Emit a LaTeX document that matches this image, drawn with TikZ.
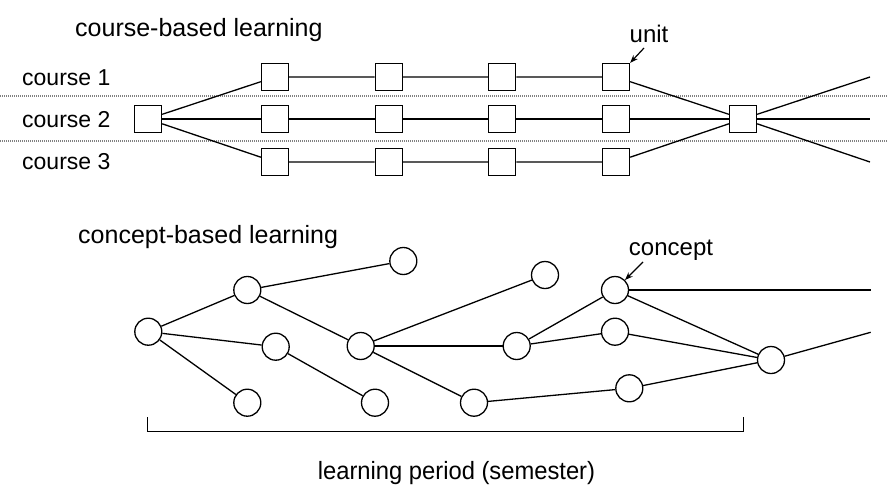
\documentclass[tikz,border=0pt]{standalone}
\usepackage{fontspec}
\setmainfont{Liberation Sans}
\usetikzlibrary{arrows.meta}
\begin{document}
\begin{tikzpicture}[x=1pt,y=-1pt,
  unitbox/.style={draw,line width=1.3pt,fill=white,minimum size=27pt,inner sep=0pt},
  conc/.style={draw,circle,line width=1.3pt,fill=white,minimum size=27pt,inner sep=0pt},
  link/.style={line width=1.3pt},
  sep/.style={gray,line width=1.2pt,dash pattern=on 1pt off 1pt},
  lbl/.style={inner sep=0pt,font=\fontsize{23}{27}\selectfont},
  ttl/.style={inner sep=0pt,font=\fontsize{25}{30}\selectfont},
  callout/.style={line width=1.2pt,-{Stealth[length=8pt,width=6pt]}}]
\useasboundingbox (0,0) rectangle (888,485);
% separators
\coordinate (s1l) at (0,96); \coordinate (s1r) at (888,96);
\coordinate (s2l) at (0,141); \coordinate (s2r) at (888,141);
\draw[sep] (s1l) -- (s1r);
\draw[sep] (s2l) -- (s2r);
% titles and labels
\node[ttl,anchor=base west] (t1) at (75,36) {course-based learning};
\node[lbl,anchor=base west] (c1) at (22,85) {course 1};
\node[lbl,anchor=base west] (c2) at (22,127) {course 2};
\node[lbl,anchor=base west] (c3) at (22,169) {course 3};
% units
\node[unitbox] (L) at (148,119) {};
\node[unitbox] (R) at (743,119) {};
\foreach \r/\y in {1/77,2/119,3/162}{
  \node[unitbox] (u\r a) at (275,\y) {};
  \node[unitbox] (u\r b) at (388.7,\y) {};
  \node[unitbox] (u\r c) at (502.3,\y) {};
  \node[unitbox] (u\r d) at (616,\y) {};
}
\coordinate (e1) at (870,77);
\coordinate (e2) at (870,119);
\coordinate (e3) at (870,162);
\foreach \r in {1,2,3}{
  \draw[link] (L) -- (u\r a) -- (u\r b) -- (u\r c) -- (u\r d) -- (R);
  \draw[link] (R) -- (e\r);
}
\node[lbl,font=\fontsize{24}{28}\selectfont,anchor=base] (unit) at (649,42) {unit};
\coordinate (ua) at (644,48);
\draw[callout] (ua) -- (u1d.north east);
% concept-based
\node[ttl,anchor=base west] (t2) at (78,243) {concept-based learning};
\node[conc] (A) at (148.3,331.7) {};
\node[conc] (B) at (247.3,290) {};
\node[conc] (C) at (403.3,261) {};
\node[conc] (D) at (275.7,346.7) {};
\node[conc] (E) at (247.3,402.7) {};
\node[conc] (F) at (360.7,346) {};
\node[conc] (G) at (375,402.7) {};
\node[conc] (H) at (474,402.7) {};
\node[conc] (I) at (545,275) {};
\node[conc] (J) at (615,290) {};
\node[conc] (K) at (516.7,346) {};
\node[conc] (Lc) at (615,331.7) {};
\node[conc] (M) at (629.3,388.3) {};
\node[conc] (N) at (771,360) {};
\coordinate (f1) at (870.7,290);
\coordinate (f2) at (870.7,332.3);
\draw[link] (A) -- (B); \draw[link] (A) -- (D); \draw[link] (A) -- (E);
\draw[link] (B) -- (C); \draw[link] (B) -- (F); \draw[link] (D) -- (G);
\draw[link] (F) -- (I); \draw[link] (F) -- (K); \draw[link] (F) -- (H);
\draw[link] (K) -- (J); \draw[link] (K) -- (Lc); \draw[link] (H) -- (M);
\draw[link] (J) -- (N); \draw[link] (Lc) -- (N); \draw[link] (M) -- (N);
\draw[link] (J) -- (f1); \draw[link] (N) -- (f2);
\node[lbl,font=\fontsize{24}{28}\selectfont,anchor=base] (concept) at (671,255) {concept};
\coordinate (ca) at (643,262);
\draw[callout] (ca) -- (J.north east);
% bracket
\coordinate (b1) at (147.7,417); \coordinate (b2) at (147.7,431.5);
\coordinate (b3) at (743.3,431.5); \coordinate (b4) at (743.3,417);
\draw[line width=1.3pt] (b1) -- (b2) -- (b3) -- (b4);
\node[inner sep=0pt,anchor=base,font=\fontsize{25}{30}\selectfont,xscale=0.95] (period) at (456.5,479) {learning period (semester)};
\end{tikzpicture}
\end{document}
